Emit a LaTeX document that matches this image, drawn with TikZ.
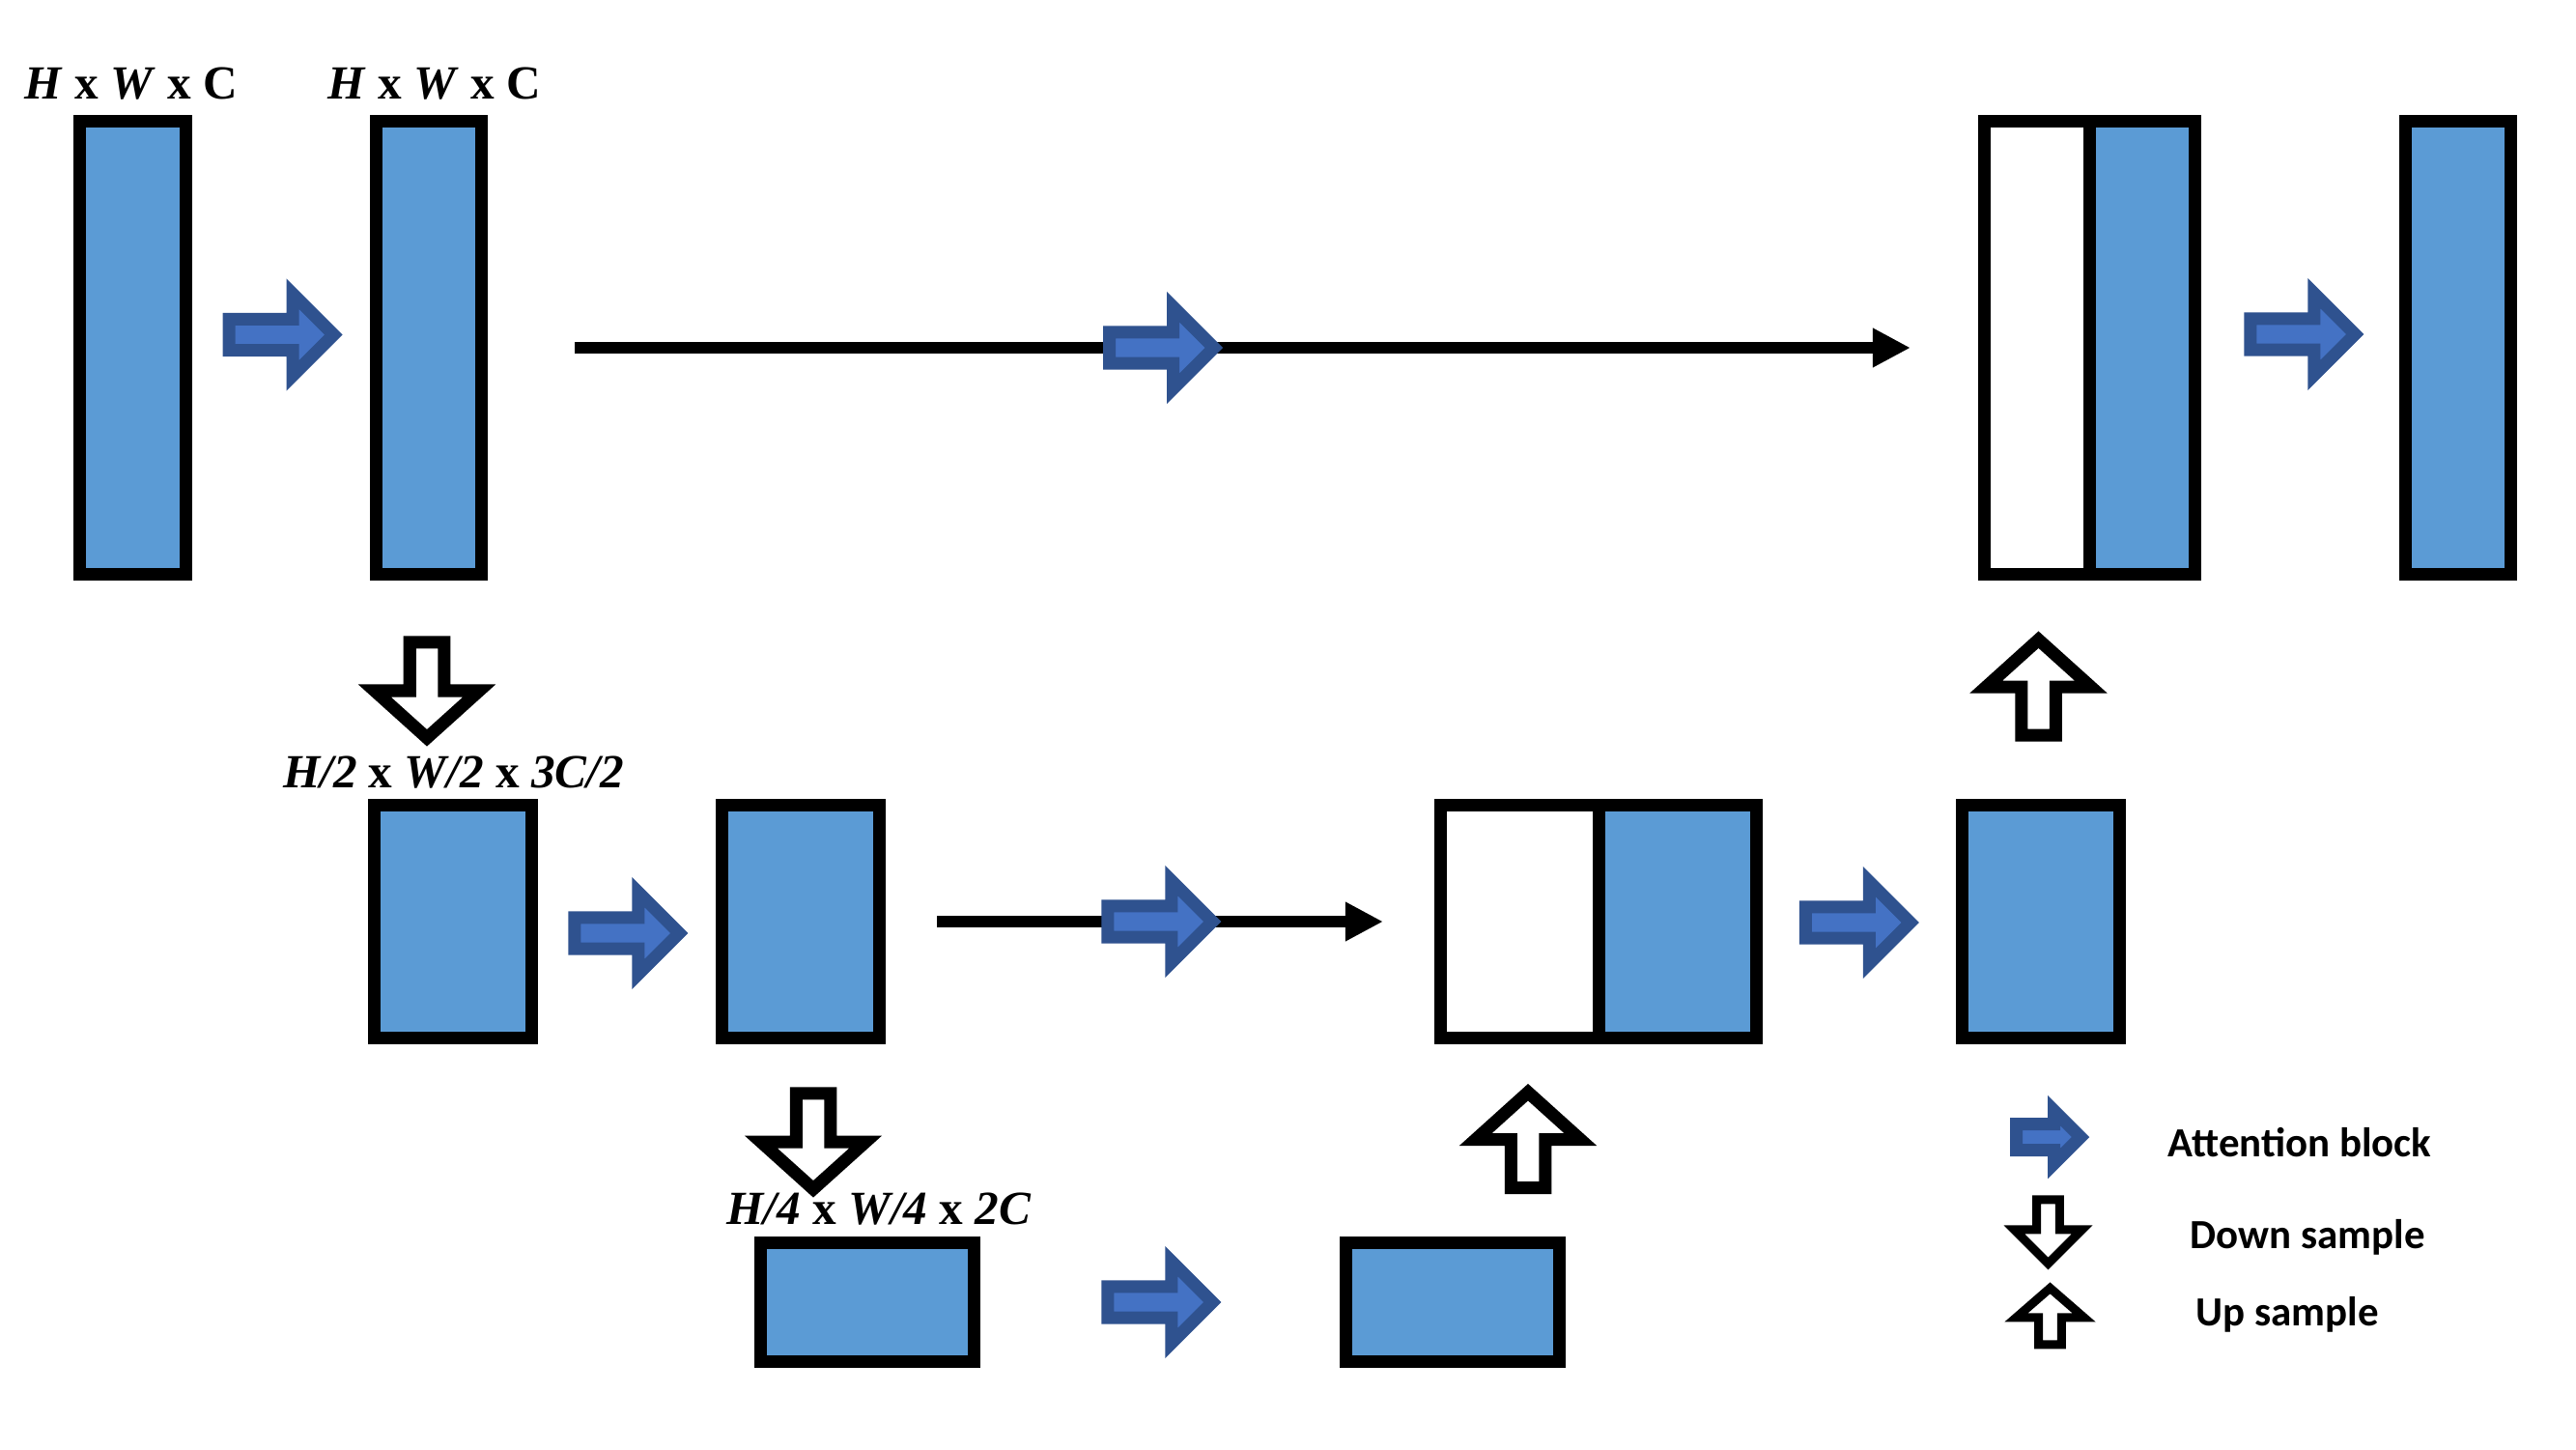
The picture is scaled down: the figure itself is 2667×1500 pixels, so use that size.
\documentclass[tikz,border=0pt]{standalone}
\usepackage{fontspec}
\setmainfont{Liberation Serif}
\newfontfamily\keyfont{Carlito}
\usetikzlibrary{shapes.arrows, arrows.meta}

\definecolor{fmblue}{HTML}{5B9BD5}
\definecolor{attnfill}{HTML}{4472C4}
\definecolor{attnline}{HTML}{2F528F}

\begin{document}
\begin{tikzpicture}[
  x=0.01cm, y=-0.01cm,
  fm/.style={draw=black, fill=fmblue, line width=0.13cm, inner sep=0pt, outer sep=0pt},
  tall/.style={fm, minimum width=1.09cm, minimum height=4.69cm},
  mid/.style={fm, minimum width=1.63cm, minimum height=2.40cm},
  flat/.style={fm, minimum width=2.21cm, minimum height=1.23cm},
  attn/.style={single arrow, draw=attnline, fill=attnfill, line width=0.13cm,
    inner sep=0pt, outer sep=0pt, single arrow tip angle=90,
    minimum width=0.846cm, single arrow head extend=0.1065cm, minimum height=1.083cm},
  samp/.style={single arrow, draw=black, fill=white, line width=0.13cm,
    inner sep=0pt, outer sep=0pt, single arrow tip angle=96,
    minimum width=1.084cm, single arrow head extend=0.1335cm, minimum height=0.988cm},
  skip/.style={line width=0.12cm, -{Triangle[length=0.39cm, width=0.38cm]}},
  dimlab/.style={anchor=base, inner sep=0pt, font=\fontsize{14}{17}\selectfont\bfseries},
  keylab/.style={anchor=base west, inner sep=0pt, font=\keyfont\fontsize{12.2}{14}\selectfont\bfseries}
]
\useasboundingbox (0,0) rectangle (2667,1500);

% --- top row: full resolution ---
\node[tall] (in) at (137.5,360) {};
\node[tall] (enc1) at (444,360) {};
\node[tall, fill=white] (cat1a) at (2109,360) {};
\node[tall] (cat1b) at (2218,360) {};
\node[tall] (out) at (2545,360) {};

\node[dimlab] (lab1) at (136,103) {\textit{H} x \textit{W} x C};
\node[dimlab] (lab2) at (450,103) {\textit{H} x \textit{W} x C};

% --- middle row: half resolution ---
\node[mid] (enc2) at (469,954) {};
\node[mid] (enc3) at (829,954) {};
\node[mid, fill=white] (cat2a) at (1573.5,954) {};
\node[mid] (cat2b) at (1737,954) {};
\node[mid] (dec2) at (2113,954) {};

\node[dimlab] (lab3) at (469.5,815) {\textit{H/2} x \textit{W/2} x \textit{3C/2}};

% --- bottom row: quarter resolution ---
\node[flat] (bott1) at (898,1348) {};
\node[flat] (bott2) at (1504,1348) {};

\node[dimlab] (lab4) at (910,1267) {\textit{H/4} x \textit{W/4} x \textit{2C}};

% skip connections into the concatenated blocks
\draw[skip, shorten <=0.965cm, shorten >=0.765cm] (enc1.east) -- (cat1a.west);
\draw[skip, shorten <=0.595cm, shorten >=0.60cm] (enc3.east) -- (cat2a.west);

% attention blocks
\node[attn] (a1) at (283.2,346.5) {};
\node[attn] (a2) at (1194.7,360) {};
\node[attn] (a3) at (2376,346) {};
\node[attn] (a4) at (641,966) {};
\node[attn] (a5) at (1193,954) {};
\node[attn] (a6) at (1915.5,955) {};
\node[attn] (a7) at (1193,1348) {};

% down / up sampling
\node[samp, rotate=-90] (d1) at (442,706.4) {};
\node[samp, rotate=-90] (d2) at (842,1173.4) {};
\node[samp, rotate=90] (u1) at (2110.5,719.6) {};
\node[samp, rotate=90] (u2) at (1582,1188.1) {};

% --- legend ---
\node[attn, minimum width=0.546cm, single arrow head extend=0.0665cm, minimum height=0.663cm] (keyattn) at (2114.1,1177) {};
\node[samp, line width=0.09cm, single arrow tip angle=90, minimum width=0.702cm,
  single arrow head extend=0.088cm, minimum height=0.661cm, rotate=-90] (keydown) at (2120.5,1269) {};
\node[samp, line width=0.09cm, single arrow tip angle=98, minimum width=0.70cm,
  single arrow head extend=0.0875cm, minimum height=0.585cm, rotate=90] (keyup) at (2122.5,1367.8) {};

\node[keylab] (keyattnlab) at (2244,1197) {Attention block};
\node[keylab] (keydownlab) at (2267,1292) {Down sample};
\node[keylab] (keyuplab) at (2273,1372) {Up sample};

\end{tikzpicture}
\end{document}
